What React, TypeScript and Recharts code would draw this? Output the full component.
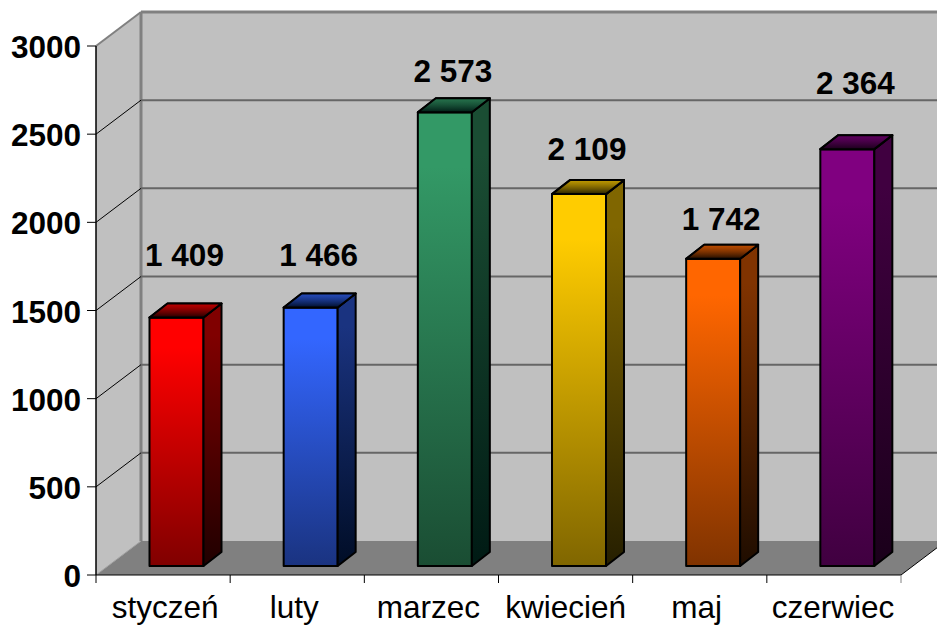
import { Bar, BarChart, LabelList, ReferenceArea, ReferenceLine, XAxis, YAxis } from "recharts";

const months = ["styczeń", "luty", "marzec", "kwiecień", "maj", "czerwiec"];
const values = [1409, 1466, 2573, 2109, 1742, 2364];
const yTicks = [0, 500, 1000, 1500, 2000, 2500, 3000];
const barColors = ["#ff0000", "#3366ff", "#339966", "#ffcc00", "#ff6600", "#800080"];
const barShades = ["#800000", "#1a3380", "#1a4d33", "#806600", "#803300", "#400040"];
const sideShades = ["#200000", "#000d26", "#001a14", "#261f00", "#1f0d00", "#1a001a"];
// labels sit at hand-placed spots in the original
const labelLift = [52, 41, 30, 34, 29, 55];
const monthNudge = [1, -4, -4, -1, -4, -2];

const data = months.map((month, i) => ({ month, value: values[i] }));

const depthX = 45;
const depthY = 34;
const barDepthX = 18;
const barDepthY = 14;
const barShiftX = 13.5;
const barShiftY = -9;
const plotWidth = 805;
const font = "Liberation Sans, Arial, sans-serif";

function Walls({ x, y, width, height }: any) {
  const bottom = y + height;
  const right = x + width;
  return (
    <g>
      <polygon
        points={`${x},${bottom} ${x},${y} ${x + depthX},${y - depthY} ${x + depthX},${bottom - depthY}`}
        fill="#c0c0c0"
      />
      <rect x={x + depthX} y={y - depthY} width={width} height={height} fill="#c0c0c0" />
      <polygon
        points={`${x},${bottom} ${x + depthX},${bottom - depthY} ${right + depthX},${bottom - depthY} ${right},${bottom}`}
        fill="#808080"
      />
      <line x1={x + depthX} y1={y - depthY} x2={x + depthX} y2={bottom - depthY} stroke="#808080" strokeWidth={3} />
      <line x1={x + depthX} y1={y - depthY} x2={right + depthX} y2={y - depthY} stroke="#808080" strokeWidth={3} />
      <line x1={x} y1={y} x2={x + depthX} y2={y - depthY} stroke="#808080" strokeWidth={2} />
      <line x1={right} y1={bottom} x2={right + depthX} y2={bottom - depthY} stroke="#000" strokeWidth={1} />
      <line x1={x} y1={bottom} x2={x + depthX} y2={bottom - depthY} stroke="#a0a0a0" strokeWidth={1} />
    </g>
  );
}

function GridRow({ x1, y1, x2 }: any) {
  return (
    <g>
      <line x1={x1} y1={y1} x2={x1 + depthX} y2={y1 - depthY} stroke="#000" strokeWidth={1} />
      <line x1={x1 + depthX} y1={y1 - depthY} x2={x2 + depthX} y2={y1 - depthY} stroke="#666" strokeWidth={2} />
    </g>
  );
}

function Box3D({ x, y, width, height, index }: any) {
  const left = x + barShiftX;
  const top = y + barShiftY;
  const right = left + width;
  const bottom = top + height;
  const dx = barDepthX;
  const dy = barDepthY;
  return (
    <g stroke="#000" strokeWidth={2} strokeLinejoin="round">
      <defs>
        <linearGradient id={`front${index}`} x1="0" y1="0" x2="0" y2="1">
          <stop offset="0.12" stopColor={barColors[index]} />
          <stop offset="1" stopColor={barShades[index]} />
        </linearGradient>
        <linearGradient id={`side${index}`} x1="0" y1="0" x2="0" y2="1">
          <stop offset="0.12" stopColor={barShades[index]} />
          <stop offset="1" stopColor={sideShades[index]} />
        </linearGradient>
        <linearGradient id={`cap${index}`} x1="0" y1="0" x2="0" y2="1">
          <stop offset="0" stopColor={barColors[index]} stopOpacity={0.75} />
          <stop offset="1" stopColor={sideShades[index]} />
        </linearGradient>
      </defs>
      <rect x={left} y={top} width={width} height={height} fill={`url(#front${index})`} />
      <polygon
        points={`${right},${top} ${right + dx},${top - dy} ${right + dx},${bottom - dy} ${right},${bottom}`}
        fill={`url(#side${index})`}
      />
      <polygon points={`${left},${top} ${left + dx},${top - dy} ${right + dx},${top - dy} ${right},${top}`} fill="#000" />
      <polygon
        points={`${left},${top} ${left + dx},${top - dy} ${right + dx},${top - dy} ${right},${top}`}
        fill={`url(#cap${index})`}
      />
    </g>
  );
}

function ValueLabel({ x, y, width, index, value }: any) {
  const text = String(value).replace(/\B(?=(\d{3})+$)/g, " ");
  return (
    <text
      x={x + barShiftX + width / 2 + barDepthX / 2 - 1}
      y={y + barShiftY - labelLift[index]}
      textAnchor="middle"
      fontFamily={font}
      fontWeight="bold"
      fontSize={31.5}
      fill="#000"
    >
      {text}
    </text>
  );
}

function MonthTick({ x, y, payload, index }: any) {
  const step = plotWidth / months.length;
  const tickTop = y - 8;
  return (
    <g>
      <line x1={x - step / 2} y1={tickTop} x2={x - step / 2} y2={tickTop + 8} stroke="#000" />
      {index === months.length - 1 && (
        <line x1={x + step / 2} y1={tickTop} x2={x + step / 2} y2={tickTop + 8} stroke="#808080" />
      )}
      <text x={x + 1 + monthNudge[index]} y={y + 35} textAnchor="middle" fontFamily={font} fontSize={31.5} fill="#000">
        {payload.value}
      </text>
    </g>
  );
}

function ValueTick({ x, y, payload }: any) {
  return (
    <text x={x} y={y + 12} textAnchor="end" fontFamily={font} fontWeight="bold" fontSize={31.5} fill="#000">
      {payload.value}
    </text>
  );
}

export default function App() {
  return (
    <div style={{ position: "absolute", left: 0, top: 0, width: 937, height: 625, background: "#fff" }}>
      <BarChart width={937} height={625} data={data} margin={{ top: 46, right: 36, bottom: 0, left: 0 }} barSize={54}>
        <XAxis
          dataKey="month"
          axisLine={{ stroke: "#000" }}
          tickLine={false}
          tickSize={8}
          tickMargin={0}
          interval={0}
          tick={<MonthTick />}
          height={50}
        />
        <YAxis
          domain={[0, 3000]}
          ticks={yTicks}
          width={96}
          axisLine={{ stroke: "#000", strokeWidth: 1.5 }}
          tickLine={{ stroke: "#000" }}
          tickSize={9}
          tickMargin={6}
          interval={0}
          tick={<ValueTick />}
        />
        <ReferenceArea y1={0} y2={3000} shape={<Walls />} ifOverflow="visible" />
        {yTicks.slice(1, -1).map((t) => (
          <ReferenceLine key={t} y={t} zIndex={150} shape={<GridRow />} ifOverflow="visible" />
        ))}
        <Bar dataKey="value" isAnimationActive={false} shape={<Box3D />}>
          <LabelList dataKey="value" content={<ValueLabel />} />
        </Bar>
      </BarChart>
    </div>
  );
}
